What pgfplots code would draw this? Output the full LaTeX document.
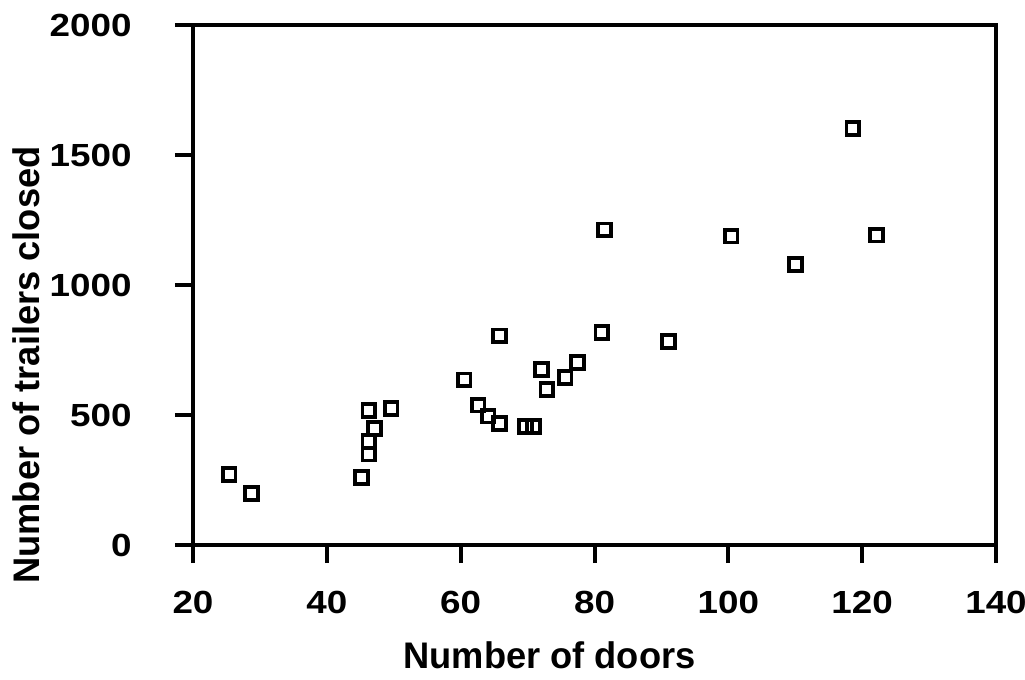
\documentclass[border=0pt]{standalone}
\usepackage{fontspec}
\setmainfont{Liberation Sans}
\newfontfamily\tickfont[FakeStretch=1.15]{Liberation Sans}
\newfontfamily\labelfont[FakeStretch=0.98]{Liberation Sans}
\usepackage{pgfplots}
\pgfplotsset{compat=1.18}
\begin{document}
\begin{tikzpicture}
\begin{axis}[
  scale only axis,
  width=401.5pt, height=260pt,
  xmin=20, xmax=140, ymin=0, ymax=2000,
  xtick={20,40,...,140}, ytick={0,500,...,2000},
  tick align=outside, xtick pos=left, ytick pos=left,
  major tick length=9pt,
  axis line style={line width=2pt},
  every tick/.style={line width=2pt, black},
  /pgf/number format/assume math mode=true,
  /pgf/number format/set thousands separator={},
  tick label style={font=\tickfont\fontsize{16}{18}\selectfont\bfseries},
  xticklabel style={yshift=-10.7pt},
  yticklabel style={xshift=-18.2pt},
  xlabel={Number of doors},
  ylabel={Number of trailers closed},
  xlabel style={font=\labelfont\fontsize{18.5}{21}\selectfont\bfseries,
    yshift=-7pt, xshift=-22.5pt},
  ylabel style={font=\labelfont\fontsize{18.5}{21}\selectfont\bfseries,
    yshift=-2pt, xshift=-40pt},
]
\addplot[only marks, mark=square, mark size=3.2pt,
  mark options={line width=1.9pt, black}] coordinates {
(25.4,272) (28.7,199) (45.2,259) (46.3,350) (46.3,400) (47.1,449)
(46.3,517) (49.6,526) (60.5,635) (62.6,538) (64.1,496) (65.8,468)
(65.8,804) (69.7,455) (70.9,455) (72.1,676) (72.9,599) (75.6,645)
(77.5,701) (81.1,817) (81.5,1212) (91.1,782) (100.4,1188) (110.0,1078)
(118.6,1603) (122.1,1192)
};
\end{axis}
% page frame around the axis
\pgfresetboundingbox
\path[use as bounding box] (current axis.south west) ++(-96.5pt,-67pt)
  rectangle ([shift={(14.5pt,12.5pt)}]current axis.north east);
\end{tikzpicture}
\end{document}
